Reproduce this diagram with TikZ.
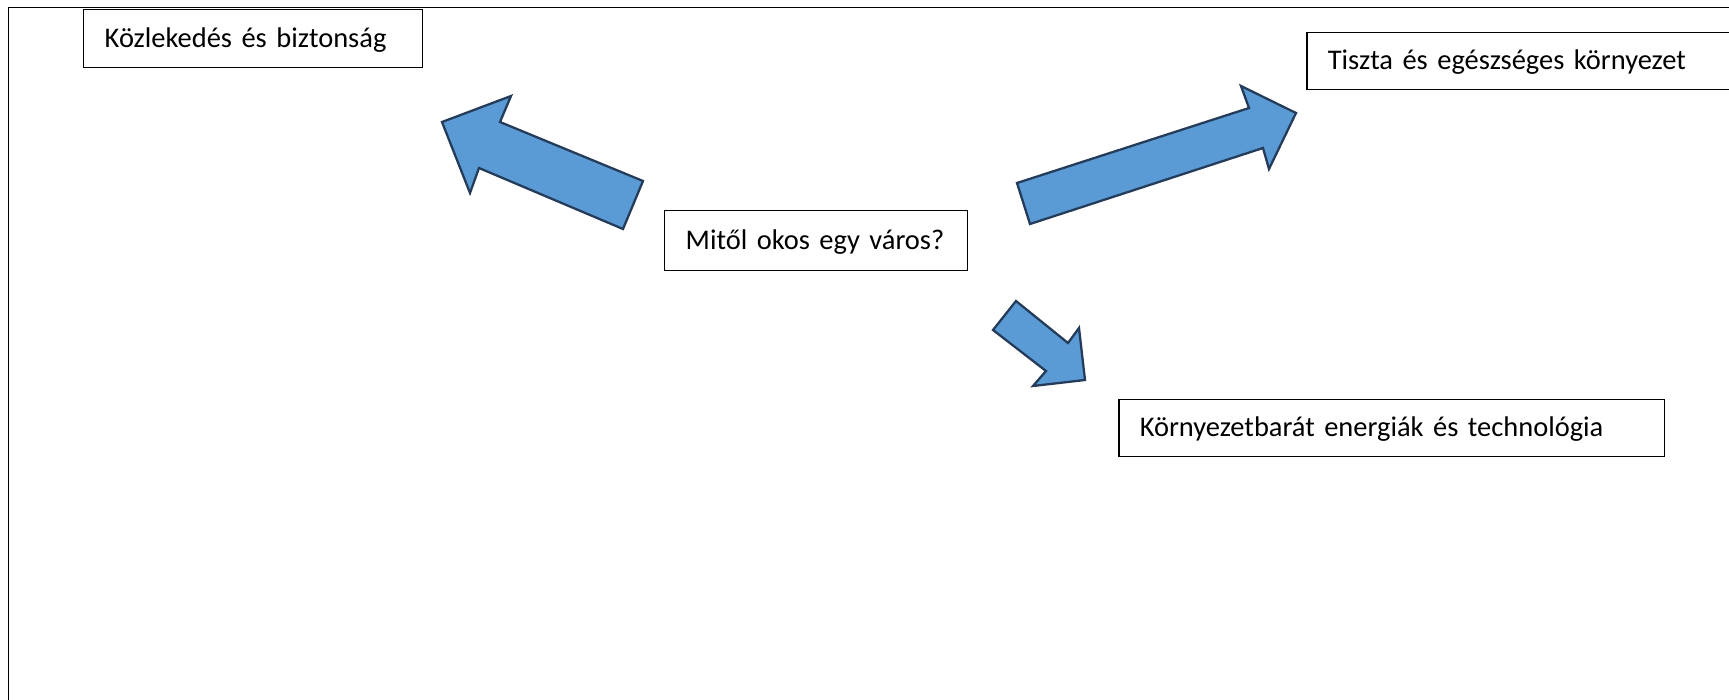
\documentclass[tikz,border=0pt]{standalone}
\usepackage{fontspec}
\setmainfont{Carlito}
\usepackage{tikz}
\usetikzlibrary{positioning}
\definecolor{ink}{gray}{0.0}
\definecolor{arrowfill}{HTML}{5B9BD5}
\definecolor{arrowline}{RGB}{36,60,90}
\tikzset{
  txtbox/.style={draw=ink, line width=0.85pt, fill=white, anchor=north west,
                 align=left, inner xsep=0.42cm, text height=0.95em, text depth=0pt,
                 font=\fontsize{16.2}{20}\selectfont},
  blockarrow/.style={draw=arrowline, fill=arrowfill, line width=1.3pt, line join=miter},
  sheet/.style={draw=ink, line width=1.1pt},
}
\begin{document}
\begin{tikzpicture}[x=0.02cm, y=-0.02cm]
        \useasboundingbox (0,0) rectangle (1729,700);
        \clip (0,0) rectangle (1729,700);
        % page frame
        \draw[sheet] (8.5,720) |- (1760,7.5);
        % boxes
        \node[txtbox, minimum width=6.78cm, minimum height=1.16cm, text width=5.94cm] (kozl) at (83,9) {Közlekedés és biztonság};
        \node[txtbox, minimum width=9.2cm, minimum height=1.14cm, text width=8.36cm] (tiszta) at (1306,32) {Tiszta és egészséges környezet};
        \node[txtbox, minimum width=6.06cm, minimum height=1.2cm, text width=5.22cm] (mitol) at (664,210) {\mbox{Mitől okos egy város?}};
        \node[txtbox, minimum width=10.92cm, minimum height=1.14cm, text width=10.08cm] (korny) at (1118,399) {Környezetbarát energiák és technológia};
        % block arrows
        \draw[blockarrow] (442,122) -- (511,96) -- (500,122) -- (643,181) -- (623,229) -- (479,168) -- (470,193) -- cycle;
        \draw[blockarrow] (1030,224) -- (1017,183) -- (1249,108) -- (1241,86) -- (1296,113) -- (1269,169) -- (1263,148) -- cycle;
        \draw[blockarrow] (1016,301) -- (993,330) -- (1046,371) -- (1033,386) -- (1085,380) -- (1079,328) -- (1068,343) -- cycle;
      \end{tikzpicture}
\end{document}
